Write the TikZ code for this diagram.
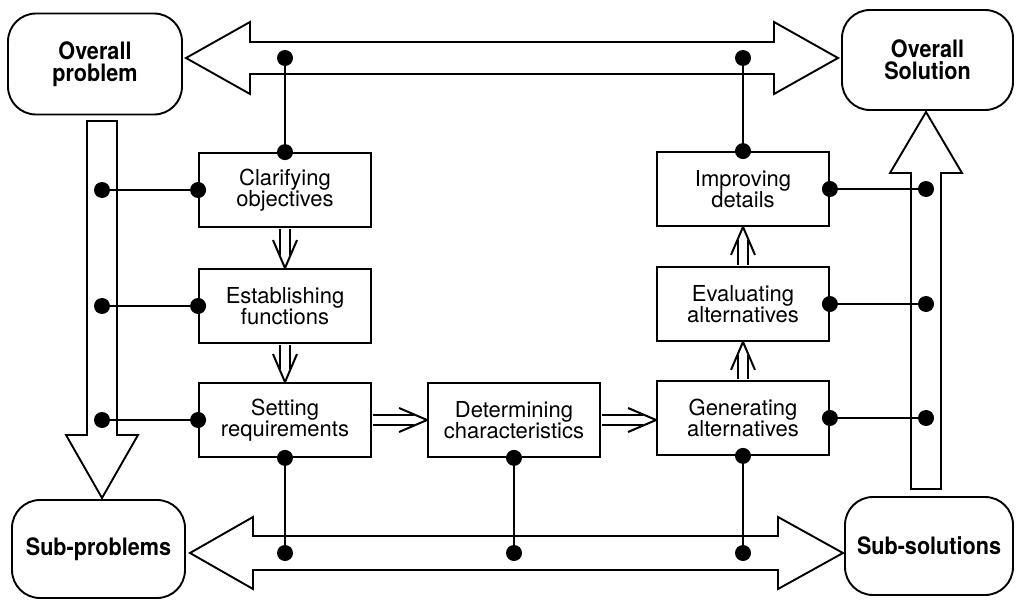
\documentclass[tikz,border=0pt]{standalone}
\usepackage{fontspec}
\setmainfont{TeX Gyre Heros}
\newfontfamily\cornerfont[FakeStretch=0.9]{TeX Gyre Heros}
\usetikzlibrary{calc}

\begin{document}
\begin{tikzpicture}[x=1pt,y=-1pt,
  stage/.style={draw, line width=1.8pt, minimum width=172pt, minimum height=74pt,
    inner sep=0pt, align=center, font=\fontsize{22}{21.5}\selectfont},
  endstate/.style={draw, line width=1.9pt, rounded corners=28pt, inner sep=0pt,
    align=center, font=\cornerfont\bfseries\fontsize{24}{22.5}\selectfont},
  bigarrow/.style={draw, line width=1.9pt, fill=white, line join=miter},
  link/.style={line width=1.5pt},
  jdot/.style={circle, fill=black, inner sep=0pt, minimum size=16pt},
  flowline/.style={double, double distance=8pt, line width=1.9pt},
  flowhead/.style={line width=2pt, line join=round},
]
\useasboundingbox (0,0) rectangle (1018,602);

% broad hollow arrows between the four end states
\draw[bigarrow] (186,58) -- (250,22) -- (250,42) -- (774,42) -- (774,22) -- (838,58)
  -- (774,94) -- (774,74) -- (250,74) -- (250,94) -- cycle;
\draw[bigarrow] (190,553) -- (253,517) -- (253,536) -- (778,536) -- (778,517) -- (843,553)
  -- (778,589) -- (778,570) -- (253,570) -- (253,589) -- cycle;
\draw[bigarrow] (87,121) -- (117,121) -- (117,435) -- (138,435) -- (102,498) -- (66,435)
  -- (87,435) -- cycle;
\draw[bigarrow] (911,489) -- (941,489) -- (941,173) -- (962,173) -- (926,112) -- (890,173)
  -- (911,173) -- cycle;

% centre lines of the broad arrows
\coordinate (topaxis) at (0,58);
\coordinate (botaxis) at (0,553);
\coordinate (leftaxis) at (102,0);
\coordinate (rightaxis) at (926,0);

% end states
\node[endstate, minimum width=174pt, minimum height=101pt] (op) at (95,64) {Overall\\problem};
\node[endstate, minimum width=171pt, minimum height=100pt] (os) at (927.5,60) {Overall\\Solution};
\node[endstate, minimum width=173pt, minimum height=98pt] (sp) at (98.5,549) {Sub-problems};
\node[endstate, minimum width=168pt, minimum height=98pt] (ss) at (929,546) {Sub-solutions};

% design stages
\node[stage] (clar) at (285,190) {Clarifying\\objectives};
\node[stage] (estf) at (285,306) {Establishing\\functions};
\node[stage] (setr) at (285,420) {Setting\\requirements};
\node[stage] (detc) at (514,420) {Determining\\characteristics};
\node[stage] (gena) at (743,418) {Generating\\alternatives};
\node[stage] (eval) at (743,304) {Evaluating\\alternatives};
\node[stage] (impd) at (743,189) {Improving\\details};

% links from the stages to the broad arrows
\draw[link] (clar.north) node[jdot]{} -- (clar.north |- topaxis) node[jdot]{};
\draw[link] (impd.north) node[jdot]{} -- (impd.north |- topaxis) node[jdot]{};
\draw[link] (clar.west) node[jdot]{} -- (clar.west -| leftaxis) node[jdot]{};
\draw[link] (estf.west) node[jdot]{} -- (estf.west -| leftaxis) node[jdot]{};
\draw[link] (setr.west) node[jdot]{} -- (setr.west -| leftaxis) node[jdot]{};
\draw[link] (impd.east) node[jdot]{} -- (impd.east -| rightaxis) node[jdot]{};
\draw[link] (eval.east) node[jdot]{} -- (eval.east -| rightaxis) node[jdot]{};
\draw[link] (gena.east) node[jdot]{} -- (gena.east -| rightaxis) node[jdot]{};
\draw[link] (setr.south) node[jdot]{} -- (setr.south |- botaxis) node[jdot]{};
\draw[link] (detc.south) node[jdot]{} -- (detc.south |- botaxis) node[jdot]{};
\draw[link] (gena.south) node[jdot]{} -- (gena.south |- botaxis) node[jdot]{};

% double-line flow arrows between the stages
\draw[flowline, shorten <=1pt, shorten >=13pt] (clar.south) -- (estf.north);
\draw[flowhead] ([xshift=-12pt,yshift=28pt]estf.north) -- (estf.north) -- ([xshift=12pt,yshift=28pt]estf.north);
\draw[flowline, shorten <=1pt, shorten >=13pt] (estf.south) -- (setr.north);
\draw[flowhead] ([xshift=-12pt,yshift=28pt]setr.north) -- (setr.north) -- ([xshift=12pt,yshift=28pt]setr.north);

\draw[flowline, shorten <=1pt, shorten >=13pt] (setr.east) -- (detc.west);
\draw[flowhead] ([xshift=-28pt,yshift=12pt]detc.west) -- (detc.west) -- ([xshift=-28pt,yshift=-12pt]detc.west);
\coordinate (genin) at (detc.east -| gena.west);
\draw[flowline, shorten <=1pt, shorten >=13pt] (detc.east) -- (genin);
\draw[flowhead] ([xshift=-28pt,yshift=12pt]genin) -- (genin) -- ([xshift=-28pt,yshift=-12pt]genin);

\draw[flowline, shorten <=1pt, shorten >=13pt] (gena.north) -- (eval.south);
\draw[flowhead] ([xshift=-12pt,yshift=-28pt]eval.south) -- (eval.south) -- ([xshift=12pt,yshift=-28pt]eval.south);
\draw[flowline, shorten <=1pt, shorten >=13pt] (eval.north) -- (impd.south);
\draw[flowhead] ([xshift=-12pt,yshift=-28pt]impd.south) -- (impd.south) -- ([xshift=12pt,yshift=-28pt]impd.south);
\end{tikzpicture}
\end{document}
